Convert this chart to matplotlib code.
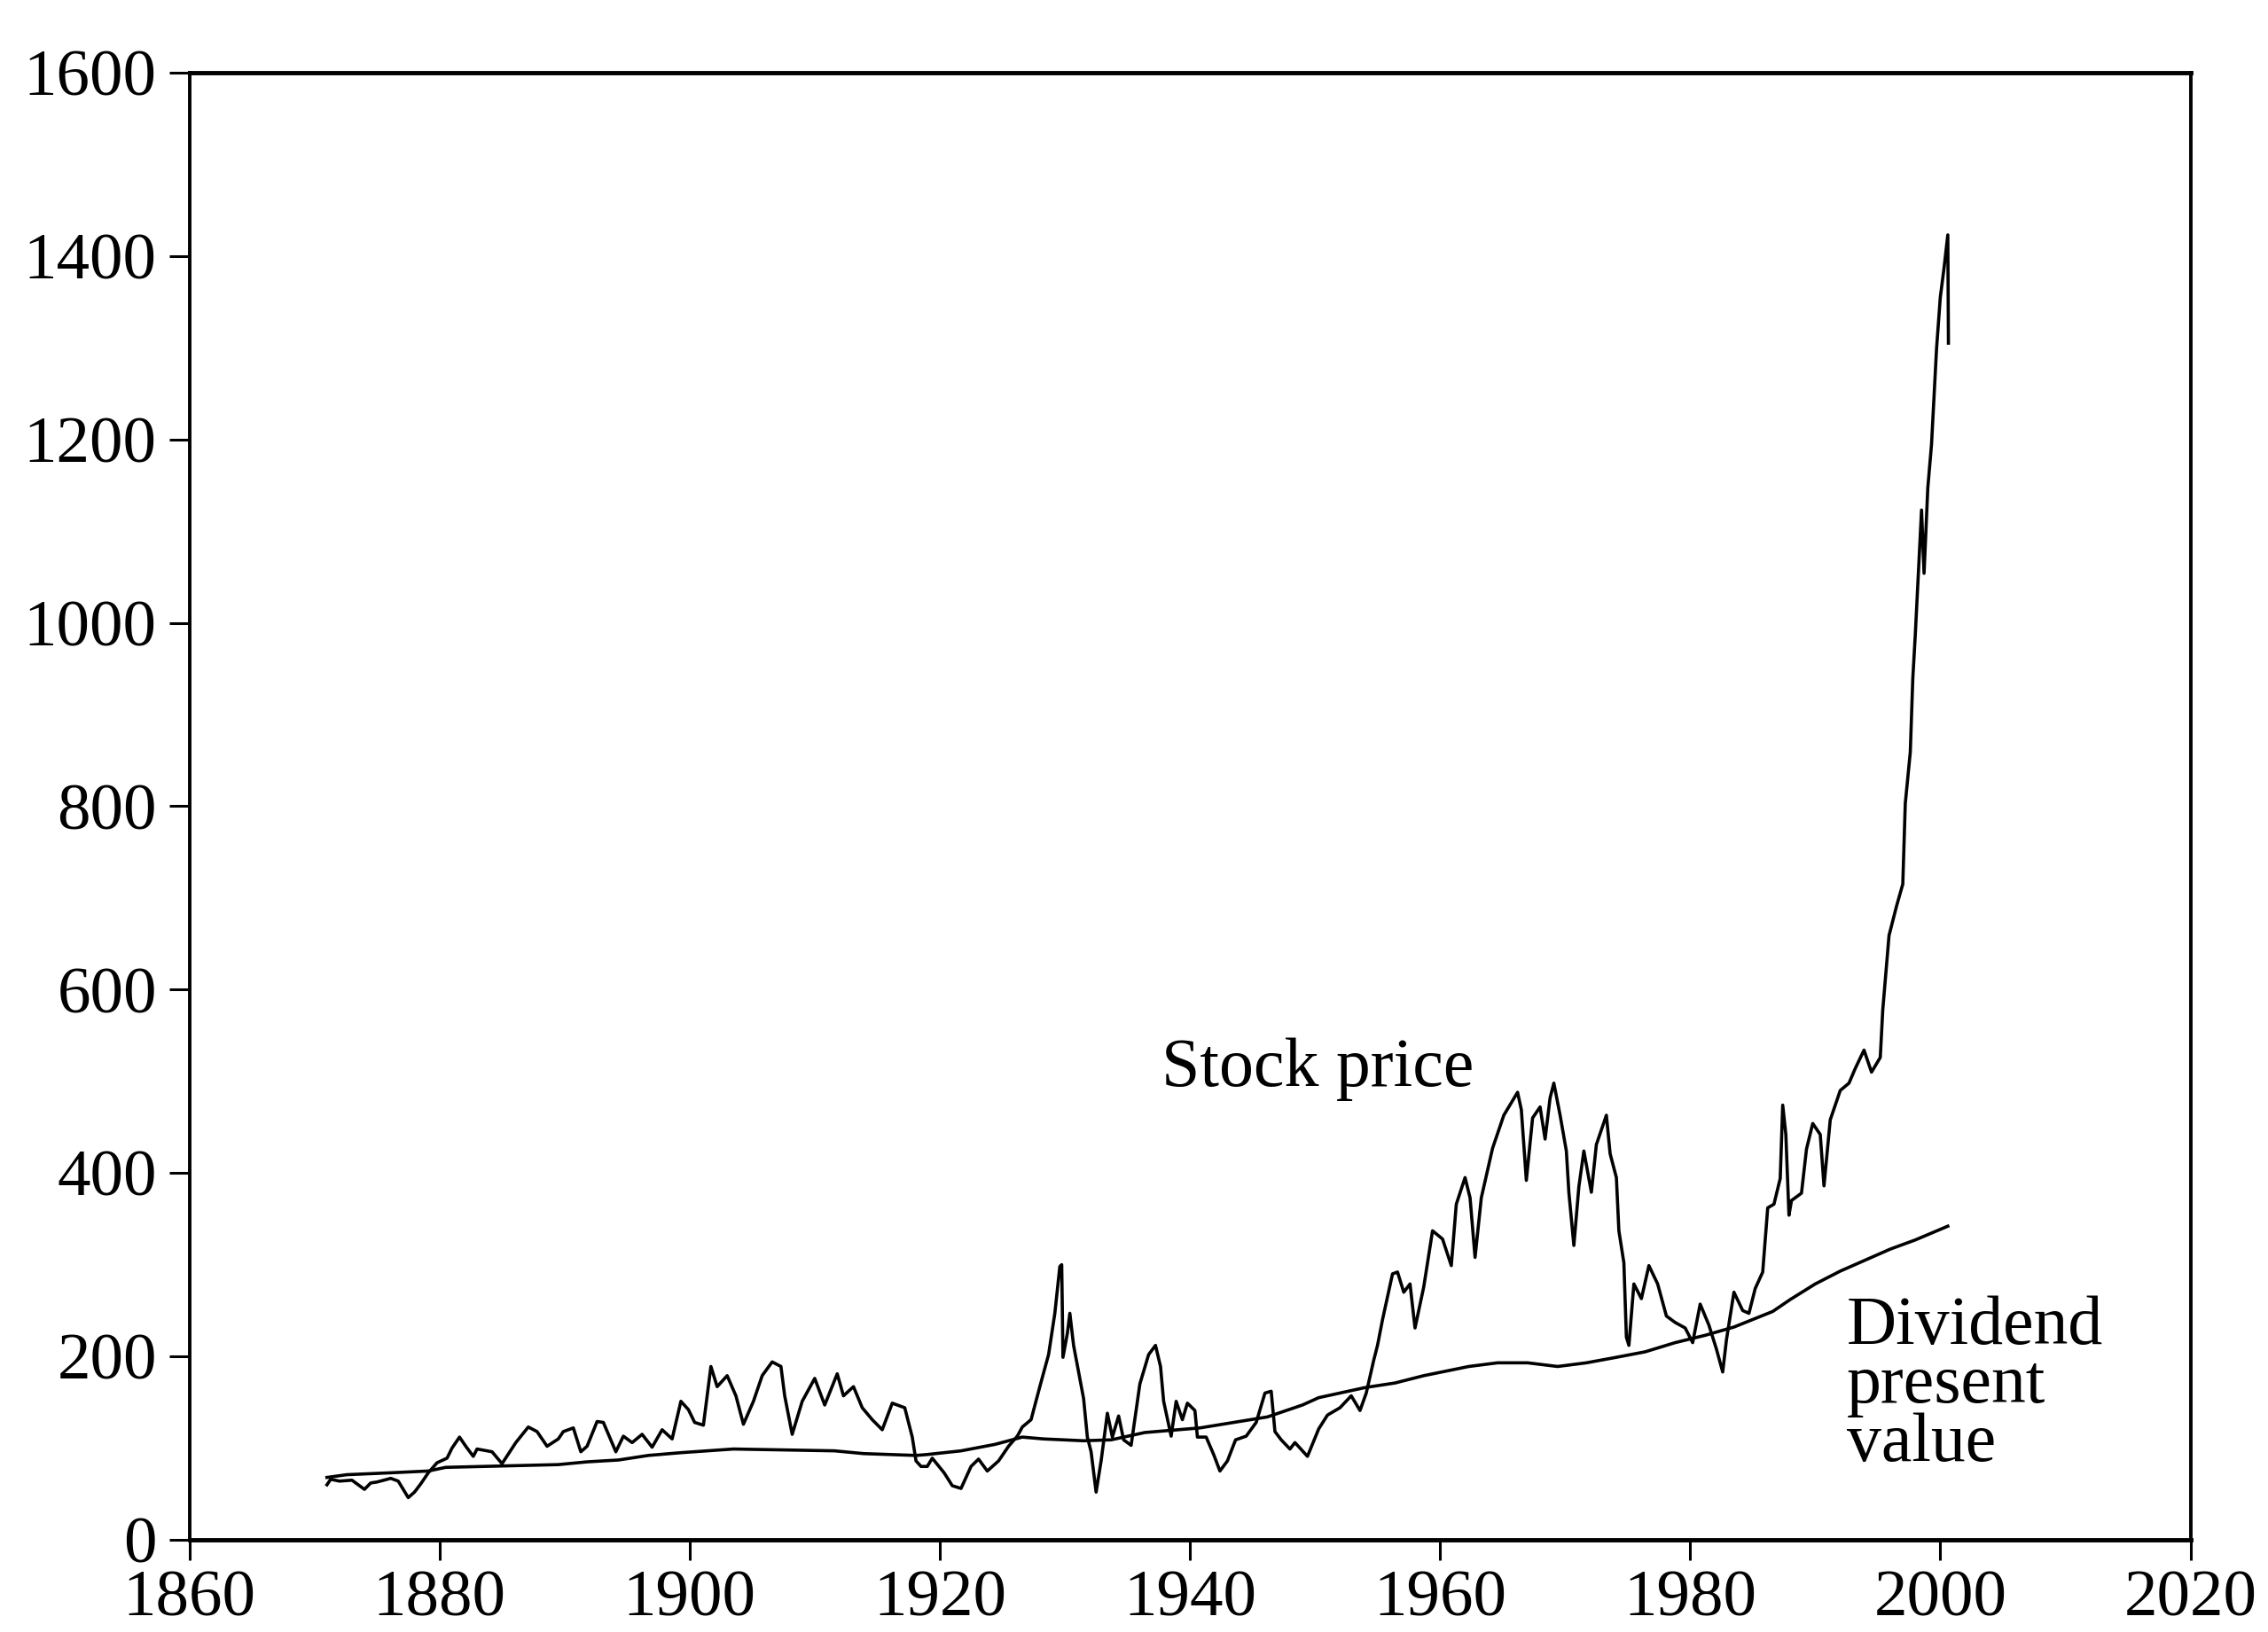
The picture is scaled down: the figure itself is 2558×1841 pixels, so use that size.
import numpy as np
import matplotlib
matplotlib.use("Agg")
import matplotlib.pyplot as plt

# 实际股价
price_years = [
    1871.0, 1871.3, 1872.0, 1873.0, 1873.5, 1874.0, 1874.5, 1875.0, 1876.1, 1876.7,
    1877.5, 1878.0, 1878.5, 1879.1, 1879.8, 1880.6, 1881.0, 1881.6, 1882.1, 1882.7,
    1883.0, 1884.2, 1885.0, 1886.1, 1887.1, 1887.8, 1888.6, 1889.5, 1889.9, 1890.7,
    1891.3, 1891.8, 1892.6, 1893.1, 1894.1, 1894.7, 1895.4, 1896.2, 1897.0, 1897.8,
    1898.6, 1899.3, 1899.9, 1900.4, 1901.1, 1901.7, 1902.2, 1903.0, 1903.7, 1904.3,
    1905.1, 1905.8, 1906.6, 1907.3, 1907.6, 1908.2, 1909.0, 1910.0, 1910.8, 1911.8,
    1912.3, 1913.1, 1913.8, 1914.6, 1915.4, 1916.2, 1917.2, 1917.8, 1918.1, 1918.5,
    1919.0, 1919.4, 1920.35, 1921.0, 1921.7, 1922.5, 1923.1, 1923.8, 1924.7, 1925.5,
    1926.2, 1926.6, 1927.3, 1928.0, 1928.7, 1929.2, 1929.6, 1929.75, 1929.85, 1930.2,
    1930.4, 1930.7, 1931.1, 1931.5, 1931.8, 1932.1, 1932.5, 1932.9, 1933.4, 1933.8,
    1934.3, 1934.7, 1935.3, 1936.0, 1936.7, 1937.25, 1937.65, 1937.9, 1938.5, 1938.9,
    1939.4, 1939.8, 1940.4, 1940.6, 1941.3, 1941.9, 1942.4, 1943.0, 1943.65, 1944.5,
    1945.3, 1946.0, 1946.5, 1946.8, 1947.3, 1948.0, 1948.4, 1949.4, 1950.3, 1951.0,
    1952.0, 1952.9, 1953.6, 1954.1, 1954.7, 1955.0, 1955.4, 1956.2, 1956.6, 1957.1,
    1957.6, 1958.0, 1958.7, 1959.4, 1960.2, 1960.9, 1961.3, 1962.0, 1962.4, 1962.8,
    1963.3, 1964.2, 1965.1, 1966.2, 1966.5, 1966.9, 1967.4, 1968.0, 1968.4, 1968.8,
    1969.1, 1969.6, 1970.1, 1970.3, 1970.7, 1971.1, 1971.5, 1972.1, 1972.5, 1973.3,
    1973.6, 1974.1, 1974.3, 1974.7, 1974.9, 1975.1, 1975.5, 1976.1, 1976.7, 1977.4,
    1978.1, 1978.8, 1979.6, 1980.2, 1980.8, 1981.5, 1982.1, 1982.6, 1982.9, 1983.5,
    1984.2, 1984.7, 1985.2, 1985.8, 1986.2, 1986.7, 1987.2, 1987.4, 1987.65, 1987.9,
    1988.1, 1988.9, 1989.3, 1989.8, 1990.4, 1990.7, 1991.2, 1992.0, 1992.7, 1993.2,
    1993.9, 1994.5, 1995.2, 1995.4, 1995.9, 1996.5, 1997.0, 1997.2, 1997.6, 1997.8,
    1998.0, 1998.5, 1998.7, 1999.0, 1999.3, 1999.7, 2000.0, 2000.3, 2000.6, 2000.65,
]
price_values = [
    60, 66, 64, 65, 60, 55, 62, 63, 67, 64,
    46, 52, 61, 73, 84, 89, 100, 112, 102, 91,
    99, 96, 83, 106, 123, 118, 102, 110, 118, 122,
    96, 102, 129, 128, 96, 113, 106, 115, 101, 120,
    110, 151, 142, 128, 125, 189, 167, 179, 157, 126,
    151, 179, 194, 189, 157, 115, 151, 176, 147, 181,
    157, 167, 144, 131, 120, 149, 144, 112, 86, 80,
    80, 89, 73, 59, 56, 80, 88, 75, 86, 102,
    113, 123, 131, 167, 202, 247, 298, 300, 199, 225,
    247, 212, 183, 154, 112, 96, 52, 86, 138, 112,
    135, 109, 103, 170, 202, 212, 189, 151, 113, 151,
    131, 149, 141, 112, 112, 93, 75, 86, 109, 113,
    128, 160, 162, 118, 109, 99, 106, 91, 121, 136,
    144, 157, 141, 160, 196, 212, 240, 290, 292, 270,
    279, 231, 276, 337, 328, 299, 366, 395, 373, 308,
    373, 427, 463, 488, 469, 392, 460, 472, 437, 482,
    498, 463, 424, 379, 321, 385, 424, 379, 431, 463,
    421, 395, 337, 302, 221, 212, 279, 263, 299, 279,
    244, 237, 231, 215, 257, 234, 208, 183, 218, 270,
    250, 247, 274, 292, 362, 366, 394, 474, 442, 354,
    370, 378, 426, 454, 442, 386, 458, 490, 498, 514,
    534, 510, 526, 578, 659, 691, 715, 803, 859, 939,
    987, 1123, 1054, 1147, 1195, 1299, 1355, 1387, 1423, 1305,
]

# 股息现值
pv_years = [
    1871.0, 1872.6, 1876.0, 1879.1, 1880.5, 1889.5, 1891.8, 1894.3, 1896.7, 1899.3,
    1903.5, 1911.6, 1913.9, 1918.1, 1919.0, 1921.7, 1924.4, 1926.6, 1928.3, 1931.5,
    1933.7, 1936.4, 1940.8, 1943.5, 1946.2, 1949.0, 1950.3, 1954.0, 1956.4, 1958.7,
    1962.3, 1964.6, 1967.0, 1969.4, 1971.7, 1974.1, 1976.4, 1978.8, 1981.2, 1983.5,
    1986.6, 1988.0, 1990.0, 1992.0, 1994.0, 1996.0, 1998.0, 2000.6,
]
pv_values = [
    68, 71, 73, 75, 79, 82, 85, 87, 92, 95,
    99, 97, 94, 92, 93, 97, 104, 112, 110, 108,
    109, 117, 122, 128, 134, 147, 155, 166, 171, 179,
    189, 193, 193, 189, 193, 199, 205, 215, 223, 232,
    249, 262, 279, 293, 305, 317, 327, 342,
]

x_ticks = list(range(1860, 2021, 20))
y_ticks = list(range(0, 1601, 200))

plt.rcParams['font.family'] = ['Liberation Serif', 'DejaVu Serif']

fig = plt.figure(figsize=(25.58, 18.41), dpi=100)
ax = fig.add_axes([0.0835, 0.0565, 0.8823, 0.899])

ax.plot(price_years, price_values, color='black', lw=2.6)
ax.plot(pv_years, pv_values, color='black', lw=2.6)

ax.set_xlim(1860, 2020)
ax.set_ylim(0, 1600)
ax.set_xticks(x_ticks)
ax.set_yticks(y_ticks)

for side in ['top', 'bottom']:
    ax.spines[side].set_linewidth(3.5)
for side in ['left', 'right']:
    ax.spines[side].set_linewidth(2.8)

ax.tick_params(axis='both', direction='out', length=16.5, width=2.2,
               labelsize=54, color='black')
ax.tick_params(axis='y', pad=10)
ax.tick_params(axis='x', pad=8)

ax.text(1937.7, 495, 'Stock price', fontsize=56, ha='left', va='baseline')
# 多行文字：baseline 对齐最后一行
ax.text(1992.5, 86, 'Dividend\npresent\nvalue', fontsize=56, ha='left',
        va='baseline', linespacing=0.9)

fig.savefig('out.png', dpi=100)
